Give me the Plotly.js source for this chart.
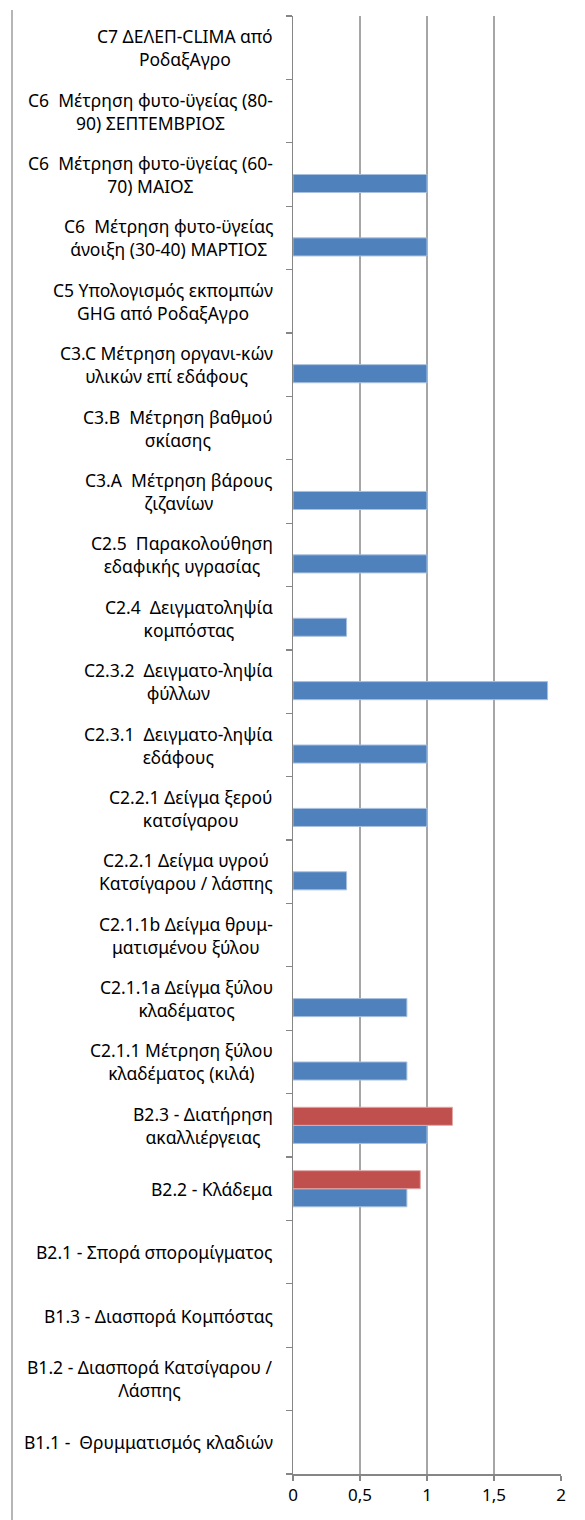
<!DOCTYPE html>
<html>
<head>
<meta charset="utf-8">
<script src="https://cdn.plot.ly/plotly-3.0.1.min.js"></script>
<style>
  html, body { margin: 0; padding: 0; background: #fff; }
  #chart { width: 585px; height: 1520px; }
</style>
</head>
<body>
<div id="chart"></div>
<script>
// Categories, bottom to top
const categories = [
  "B1.1 -  Θρυμματισμός κλαδιών",
  "B1.2 - Διασπορά Κατσίγαρου /<br>Λάσπης",
  "B1.3 - Διασπορά Κομπόστας",
  "B2.1 - Σπορά σπορομίγματος",
  "B2.2 - Κλάδεμα",
  "B2.3 - Διατήρηση<br>ακαλλιέργειας",
  "C2.1.1 Μέτρηση ξύλου<br>κλαδέματος (κιλά)",
  "C2.1.1a Δείγμα ξύλου<br>κλαδέματος",
  "C2.1.1b Δείγμα θρυμ-<br>ματισμένου ξύλου",
  "C2.2.1 Δείγμα υγρού<br>Κατσίγαρου / λάσπης",
  "C2.2.1 Δείγμα ξερού<br>κατσίγαρου",
  "C2.3.1  Δειγματο-ληψία<br>εδάφους",
  "C2.3.2  Δειγματο-ληψία<br>φύλλων",
  "C2.4  Δειγματοληψία<br>κομπόστας",
  "C2.5  Παρακολούθηση<br>εδαφικής υγρασίας",
  "C3.A  Μέτρηση βάρους<br>ζιζανίων",
  "C3.B  Μέτρηση βαθμού<br>σκίασης",
  "C3.C Μέτρηση οργανι-κών<br>υλικών επί εδάφους",
  "C5 Υπολογισμός εκπομπών<br>GHG από ΡοδαξΑγρο",
  "C6  Μέτρηση φυτο-ϋγείας<br>άνοιξη (30-40) ΜΑΡΤΙΟΣ",
  "C6  Μέτρηση φυτο-ϋγείας (60-<br>70) ΜΑΙΟΣ",
  "C6  Μέτρηση φυτο-ϋγείας (80-<br>90) ΣΕΠΤΕΜΒΡΙΟΣ",
  "C7 ΔΕΛΕΠ-CLIMA από<br>ΡοδαξΑγρο"
];

// Series 1 (blue)
const seriesBlue = [
  null, null, null, null, 0.85, 1.0, 0.85, 0.85, null, 0.4, 1.0, 1.0,
  1.9, 0.4, 1.0, 1.0, null, 1.0, null, 1.0, 1.0, null, null
];

// Series 2 (red)
const seriesRed = [
  null, null, null, null, 0.95, 1.19, null, null, null, null, null, null,
  null, null, null, null, null, null, null, null, null, null, null
];

const xTickVals = [0, 0.5, 1, 1.5, 2];

const FONT = "'Noto Sans', 'Open Sans', sans-serif";

const traces = [
  {
    type: "bar", orientation: "h", name: "Σειρά 1",
    y: categories, x: seriesBlue,
    marker: { color: "#4F81BD", line: { color: "#a9c0de", width: 1 } },
    hoverinfo: "skip"
  },
  {
    type: "bar", orientation: "h", name: "Σειρά 2",
    y: categories, x: seriesRed,
    marker: { color: "#C0504D", line: { color: "#e2a8a6", width: 1 } },
    hoverinfo: "skip"
  }
];

const annotations = categories.map(c => ({
  xref: "paper", yref: "y",
  x: 0, y: c,
  xanchor: "right", yanchor: "middle",
  xshift: -18,
  align: "center",
  showarrow: false,
  text: c,
  font: { family: FONT, size: 17.5, color: "#000" }
}));

const layout = {
  width: 585, height: 1520,
  margin: { l: 293, r: 24, t: 16, b: 46, pad: 0 },
  paper_bgcolor: "#ffffff",
  plot_bgcolor: "#ffffff",
  showlegend: false,
  barmode: "group",
  bargap: 0.43,
  bargroupgap: 0,
  separators: ",.",
  font: { family: FONT, size: 17, color: "#000" },
  xaxis: {
    range: [0, 2],
    tickvals: xTickVals,
    showgrid: true, gridcolor: "#a6a6a6", gridwidth: 1.2,
    zeroline: false,
    showline: true, linecolor: "#868686", linewidth: 1.5,
    ticks: "outside", ticklen: 5, tickcolor: "#868686", tickwidth: 1.2,
    tickfont: { family: FONT, size: 17, color: "#000" },
    fixedrange: true
  },
  yaxis: {
    type: "category",
    categoryorder: "array", categoryarray: categories,
    showticklabels: false,
    showgrid: false, zeroline: false,
    showline: true, linecolor: "#868686", linewidth: 1.5,
    ticks: "outside", tickson: "boundaries", ticklen: 6,
    tickcolor: "#868686", tickwidth: 1.2,
    fixedrange: true
  },
  annotations: annotations,
  shapes: [
    {
      type: "line", xref: "paper", yref: "paper",
      x0: -1.0485, x1: -1.0485, y0: 1.0041, y1: -0.05,
      line: { color: "#868686", width: 1.2 }
    }
  ]
};

Plotly.newPlot("chart", traces, layout, { staticPlot: true, displayModeBar: false });
</script>
</body>
</html>
